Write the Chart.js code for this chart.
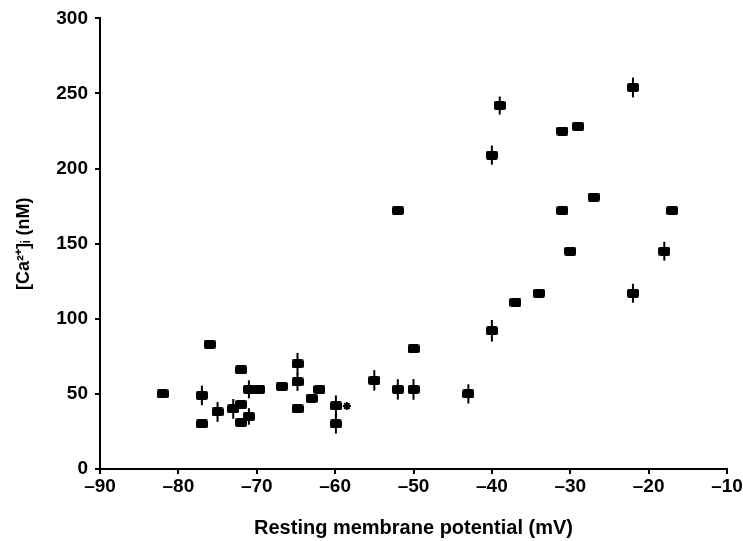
<!DOCTYPE html>
<html>
<head>
<meta charset="utf-8">
<script src="https://cdn.jsdelivr.net/npm/chart.js@4"></script>
<style>
  html, body { margin: 0; padding: 0; background: #fff; }
  #wrap { width: 743px; height: 541px; position: relative; }
</style>
</head>
<body>
<div id="wrap"><canvas id="c" width="743" height="541"></canvas></div>
<script>
// Resting membrane potential (mV)
const potential = [-82, -76, -77, -77, -75, -73, -72, -72, -72, -71, -71, -69.7, -66.8, -64.8, -64.8, -64.8, -63, -62, -59.9, -59.9,
                   -55, -52, -50, -50, -52, -43, -40, -40, -39, -37, -34, -31, -29, -31, -30, -27, -22, -22, -18, -17];
// [Ca2+]i (nM)
const calcium   = [50, 83, 49, 30, 38, 40, 66, 43, 31, 35, 53, 53, 55, 70, 58, 40, 47, 53, 42, 30,
                   59, 53, 53, 80, 172, 50, 92, 209, 242, 111, 117, 225, 228, 172, 145, 181, 254, 117, 145, 172];
// error (± nM), 0 = no bar drawn
const errors    = [0, 0, 6.5, 0, 6.6, 6.6, 0, 0, 0, 5.5, 6, 0, 0, 7.3, 6, 0, 0, 0, 7, 6.4,
                   6.8, 6.8, 6.9, 0, 0, 6.4, 7.2, 6.4, 6, 0, 0, 0, 0, 0, 0, 0, 6.6, 6.3, 6.3, 0];
// marked cell (asterisk)
const starX = [-58.5];
const starY = [42];

const xTicks = [-90, -80, -70, -60, -50, -40, -30, -20, -10];
const yTicks = [0, 50, 100, 150, 200, 250, 300];

const FONT = '"Liberation Sans", Arial, Helvetica, sans-serif';

// rounded rectangle marker
function makeMarker(w, h, r) {
  const cv = document.createElement('canvas');
  cv.width = w; cv.height = h;
  const g = cv.getContext('2d');
  g.fillStyle = '#000';
  g.beginPath();
  g.moveTo(r, 0); g.lineTo(w - r, 0); g.quadraticCurveTo(w, 0, w, r);
  g.lineTo(w, h - r); g.quadraticCurveTo(w, h, w - r, h);
  g.lineTo(r, h); g.quadraticCurveTo(0, h, 0, h - r);
  g.lineTo(0, r); g.quadraticCurveTo(0, 0, r, 0);
  g.fill();
  return cv;
}
const marker = makeMarker(12, 9, 2);

const errorBars = {
  id: 'errorBars',
  afterDatasetsDraw(chart) {
    const xs = chart.scales.x, ys = chart.scales.y, ctx = chart.ctx;
    ctx.save();
    ctx.strokeStyle = '#000';
    ctx.lineWidth = 2;
    for (let i = 0; i < potential.length; i++) {
      if (!errors[i]) continue;
      const px = xs.getPixelForValue(potential[i]);
      ctx.beginPath();
      ctx.moveTo(px, ys.getPixelForValue(calcium[i] + errors[i]));
      ctx.lineTo(px, ys.getPixelForValue(calcium[i] - errors[i]));
      ctx.stroke();
    }
    ctx.restore();
  }
};

new Chart(document.getElementById('c'), {
  type: 'scatter',
  data: {
    datasets: [{
      data: potential.map((x, i) => ({ x: x, y: calcium[i] })),
      pointStyle: marker,
      pointRadius: 6,
      pointHoverRadius: 6,
      backgroundColor: '#000',
      borderColor: '#000'
    }, {
      data: starX.map((x, i) => ({ x: x, y: starY[i] })),
      pointStyle: 'star',
      pointRadius: 4,
      borderWidth: 2,
      borderColor: '#000',
      backgroundColor: '#000'
    }]
  },
  options: {
    responsive: false,
    animation: false,
    events: [],
    layout: { padding: { top: 15, right: 0, left: 0, bottom: 0 } },
    plugins: { legend: { display: false }, tooltip: { enabled: false } },
    scales: {
      x: {
        type: 'linear',
        min: -90, max: -10,
        afterBuildTicks: s => { s.ticks = xTicks.map(v => ({ value: v })); },
        afterFit: s => { s.height = 72; s.paddingRight = 16; s.paddingLeft = 0; },
        border: { display: true, color: '#000', width: 2 },
        grid: { drawOnChartArea: false, drawTicks: true, tickLength: 5, color: '#000', lineWidth: 2 },
        ticks: {
          color: '#000', padding: 1, maxRotation: 0,
          font: { family: FONT, size: 19, weight: 'bold' },
          callback: v => String(v).replace('-', '\u2013')
        },
        title: {
          display: true,
          text: 'Resting membrane potential (mV)',
          color: '#000',
          font: { family: FONT, size: 20, weight: 'bold', lineHeight: 1.2 },
          padding: { top: 0, bottom: 1 }
        }
      },
      y: {
        type: 'linear',
        min: 0, max: 300,
        afterBuildTicks: s => { s.ticks = yTicks.map(v => ({ value: v })); },
        afterFit: s => { s.width = 100; },
        border: { display: true, color: '#000', width: 2 },
        grid: { drawOnChartArea: false, drawTicks: true, tickLength: 5, color: '#000', lineWidth: 2 },
        ticks: {
          color: '#000', padding: 7,
          font: { family: FONT, size: 19, weight: 'bold' }
        },
        title: {
          display: true,
          text: '[Ca\u00B2\u207A]\u1D62 (nM)',
          color: '#000',
          font: { family: FONT, size: 18, weight: 'bold', lineHeight: 1.2 },
          padding: { top: 13, bottom: 0 }
        }
      }
    }
  },
  plugins: [errorBars]
});
</script>
</body>
</html>
